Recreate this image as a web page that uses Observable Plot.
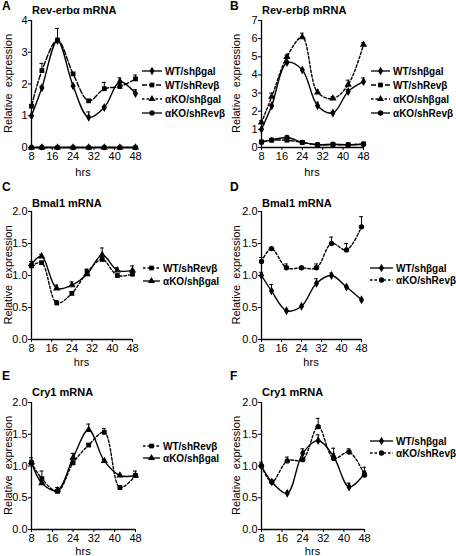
<!DOCTYPE html>
<html><head><meta charset="utf-8">
<script src="https://cdn.jsdelivr.net/npm/d3@7"></script>
<script src="https://cdn.jsdelivr.net/npm/@observablehq/plot@0.6"></script>
<style>
html,body{margin:0;padding:0;background:#fff;}
#wrap{position:relative;width:456px;height:556px;background:#fff;font-family:"Liberation Sans",Arial,sans-serif;overflow:hidden;}
#wrap > svg{position:absolute;}
</style></head>
<body><div id="wrap"></div>
<script>
// ---- data ----
const hours = [8, 12, 18, 24, 30, 36, 42, 48];
const xTicks = [8, 16, 24, 32, 40, 48];
const yTicksA = [0, 1, 2, 3, 4];
const yTicksB = [0, 1, 2, 3, 4, 5, 6, 7];
const yTicksCF = [0, 0.5, 1, 1.5, 2];

// Panel A: Rev-erbα mRNA
const a_WT_shBgal = [1.0, 1.88, 3.37, 1.94, 0.95, 1.26, 2.07, 1.70];
const a_WT_shBgal_err = [0, 0.05, 0.05, 0, 0.17, 0.04, 0.12, 0.12];
const a_WT_shRevB = [1.30, 2.42, 3.38, 2.32, 1.47, 1.85, 1.92, 2.16];
const a_WT_shRevB_err = [0.04, 0.23, 0.37, 0.04, 0.03, 0.20, 0.08, 0.12];
const a_KO_shBgal = [0, 0, 0, 0, 0, 0, 0, 0];
const a_KO_shRevB = [0, 0, 0, 0, 0, 0, 0, 0];

// Panel B: Rev-erbβ mRNA
const b_WT_shBgal = [1.0, 2.30, 4.68, 4.27, 2.30, 1.90, 3.09, 3.63];
const b_WT_shBgal_err = [0, 0.05, 0.1, 0, 0.2, 0.05, 0.1, 0.2];
const b_WT_shRevB = [0.30, 0.40, 0.40, 0.28, 0.15, 0.15, 0.15, 0.20];
const b_KO_shBgal = [1.38, 2.80, 5.00, 6.08, 3.04, 2.70, 3.46, 5.67];
const b_KO_shBgal_err = [0.1, 0.2, 0.1, 0.22, 0.12, 0.1, 0.25, 0.1];
const b_KO_shRevB = [0.30, 0.42, 0.55, 0.28, 0.15, 0.18, 0.15, 0.18];

// Panel C: Bmal1 mRNA
const c_WT_shRevB = [1.15, 1.20, 0.57, 0.72, 1.05, 1.25, 1.00, 1.02];
const c_WT_shRevB_err = [0, 0, 0.04, 0.02, 0.04, 0.05, 0, 0];
const c_KO_shBgal = [1.18, 1.30, 0.80, 0.85, 1.02, 1.32, 1.08, 1.08];
const c_KO_shBgal_err = [0.04, 0.03, 0.05, 0.05, 0.08, 0.11, 0.04, 0.07];

// Panel D: Bmal1 mRNA
const d_WT_shBgal = [1.0, 0.76, 0.45, 0.52, 0.88, 1.0, 0.82, 0.62];
const d_WT_shBgal_err = [0.05, 0.1, 0, 0, 0.07, 0.04, 0, 0];
const d_KO_shRevB = [1.22, 1.42, 1.12, 1.12, 1.12, 1.50, 1.40, 1.76];
const d_KO_shRevB_err = [0.06, 0, 0.06, 0, 0.06, 0.1, 0.1, 0.16];

// Panel E: Cry1 mRNA
const e_WT_shRevB = [1.05, 0.80, 0.60, 1.05, 1.33, 1.53, 0.66, 0.85];
const e_WT_shRevB_err = [0.04, 0.12, 0.03, 0.05, 0.02, 0.06, 0.03, 0.07];
const e_KO_shBgal = [1.06, 0.73, 0.62, 1.13, 1.57, 1.08, 0.85, 0.85];
const e_KO_shBgal_err = [0.07, 0.02, 0.04, 0.07, 0.09, 0.02, 0.02, 0.03];

// Panel F: Cry1 mRNA
const f_WT_shBgal = [1.0, 0.75, 0.57, 1.20, 1.40, 1.15, 0.67, 0.88];
const f_WT_shBgal_err = [0.06, 0, 0, 0.07, 0.09, 0.05, 0.06, 0.04];
const f_KO_shRevB = [1.0, 0.75, 1.08, 1.10, 1.62, 1.12, 1.22, 0.86];
const f_KO_shRevB_err = [0.03, 0, 0.06, 0, 0.13, 0.16, 0.05, 0.12];

// ---- styles ----
const FONT = '"Liberation Sans", Arial, sans-serif';
const SOLID = null, LONGDASH = "5,2", SHORTDASH = "2.5,2";
const S = {
  wtg: {label: "WT/sh\u03b2gal", symbol: "diamond"},
  wtr: {label: "WT/shRev\u03b2", symbol: "square"},
  kog: {label: "\u03b1KO/sh\u03b2gal", symbol: "triangle"},
  kor: {label: "\u03b1KO/shRev\u03b2", symbol: "circle"}
};

const panels = [
  {id: "A", title: "Rev-erb\u03b1 mRNA", left: 0, top: 0, w: 228, h: 185, ml: 31, mr: 93, mt: 20, mb: 38,
   yDomain: [0, 4], yTicks: yTicksA, letterY: 10, titleY: 14, hrsY: 176,
   legendX: 142, legendLen: 20, legendY: 71, legendStep: 14,
   series: [
     {...S.wtg, v: a_WT_shBgal, e: a_WT_shBgal_err, dash: SOLID},
     {...S.wtr, v: a_WT_shRevB, e: a_WT_shRevB_err, dash: LONGDASH},
     {...S.kog, v: a_KO_shBgal, e: null, dash: SHORTDASH},
     {...S.kor, v: a_KO_shRevB, e: null, dash: SOLID}]},
  {id: "B", title: "Rev-erb\u03b2 mRNA", left: 228, top: 0, w: 228, h: 185, ml: 33, mr: 93, mt: 20, mb: 38,
   yDomain: [0, 7], yTicks: yTicksB, letterY: 10, titleY: 14, hrsY: 176,
   legendX: 371, legendLen: 19, legendY: 71, legendStep: 14,
   series: [
     {...S.wtg, v: b_WT_shBgal, e: b_WT_shBgal_err, dash: SOLID},
     {...S.wtr, v: b_WT_shRevB, e: null, dash: LONGDASH},
     {...S.kog, v: b_KO_shBgal, e: b_KO_shBgal_err, dash: SHORTDASH},
     {...S.kor, v: b_KO_shRevB, e: null, dash: SOLID}]},
  {id: "C", title: "Bmal1 mRNA", left: 0, top: 185, w: 228, h: 185, ml: 31, mr: 96, mt: 26, mb: 31,
   yDomain: [0, 2], yTicks: yTicksCF, letterY: 191, titleY: 207, hrsY: 366,
   legendX: 143, legendLen: 17, legendY: 268, legendStep: 13,
   series: [
     {...S.wtr, v: c_WT_shRevB, e: c_WT_shRevB_err, dash: SHORTDASH},
     {...S.kog, v: c_KO_shBgal, e: c_KO_shBgal_err, dash: SOLID}]},
  {id: "D", title: "Bmal1 mRNA", left: 228, top: 185, w: 228, h: 185, ml: 33, mr: 95, mt: 26, mb: 31,
   yDomain: [0, 2], yTicks: yTicksCF, letterY: 191, titleY: 207, hrsY: 366,
   legendX: 370, legendLen: 23, legendY: 268, legendStep: 12,
   series: [
     {...S.wtg, v: d_WT_shBgal, e: d_WT_shBgal_err, dash: SOLID},
     {...S.kor, v: d_KO_shRevB, e: d_KO_shRevB_err, dash: SHORTDASH}]},
  {id: "E", title: "Cry1 mRNA", left: 0, top: 370, w: 228, h: 186, ml: 31, mr: 93, mt: 32, mb: 27,
   yDomain: [0, 2], yTicks: yTicksCF, letterY: 380, titleY: 396, hrsY: 555,
   legendX: 143, legendLen: 17, legendY: 446, legendStep: 12,
   series: [
     {...S.wtr, v: e_WT_shRevB, e: e_WT_shRevB_err, dash: SHORTDASH},
     {...S.kog, v: e_KO_shBgal, e: e_KO_shBgal_err, dash: SOLID}]},
  {id: "F", title: "Cry1 mRNA", left: 228, top: 370, w: 228, h: 186, ml: 33, mr: 92, mt: 32, mb: 27,
   yDomain: [0, 2], yTicks: yTicksCF, letterY: 380, titleY: 396, hrsY: 555,
   legendX: 370, legendLen: 23, legendY: 441, legendStep: 12,
   series: [
     {...S.wtg, v: f_WT_shBgal, e: f_WT_shBgal_err, dash: SOLID},
     {...S.kor, v: f_KO_shRevB, e: f_KO_shRevB_err, dash: SHORTDASH}]}
];

const wrap = document.getElementById("wrap");

for (const p of panels) {
  const marks = [];
  marks.push(Plot.ruleY([p.yDomain[0]], {stroke: "black", strokeWidth: 1.3}));
  marks.push(Plot.ruleX([8], {stroke: "black", strokeWidth: 1.3}));
  marks.push(Plot.axisX(xTicks, {tickSize: 3, tickPadding: 2, label: null, fontSize: 11, stroke: "black"}));
  marks.push(Plot.axisY(p.yTicks, {tickSize: 3, tickPadding: 1, label: null, fontSize: 11, stroke: "black"}));
  for (const s of p.series) {
    const rows = hours.map((h, i) => ({x: h, y: s.v[i], e: s.e ? s.e[i] : 0}));
    const withErr = rows.filter(d => d.e > 0);
    marks.push(Plot.ruleX(withErr, {x: "x", y1: "y", y2: d => d.y + d.e, stroke: "black", strokeWidth: 1}));
    marks.push(Plot.ruleY(withErr, {y: d => d.y + d.e, x1: d => d.x - 0.75, x2: d => d.x + 0.75, stroke: "black", strokeWidth: 1}));
    marks.push(Plot.line(rows, {x: "x", y: "y", curve: "catmull-rom", stroke: "black", strokeWidth: 1.4,
      strokeDasharray: s.dash || undefined}));
    marks.push(Plot.dot(rows, {x: "x", y: "y", symbol: () => s.symbol, fill: "black", stroke: "none", r: 2.7}));
  }
  const chart = Plot.plot({
    width: p.w, height: p.h,
    marginLeft: p.ml, marginRight: p.mr, marginTop: p.mt, marginBottom: p.mb,
    x: {domain: [8, 48]},
    y: {domain: p.yDomain},
    symbol: {type: "identity"},
    style: {fontFamily: FONT, fontSize: "11px", color: "black", background: "white", overflow: "visible"},
    marks
  });
  chart.style.left = p.left + "px";
  chart.style.top = p.top + "px";
  wrap.appendChild(chart);
}

// ---- overlay: panel letters, titles, axis labels, legends ----
const ov = d3.select(wrap).append("svg")
  .attr("width", 456).attr("height", 556)
  .style("left", "0px").style("top", "0px").style("pointer-events", "none")
  .style("font-family", FONT);

const symMap = {diamond: d3.symbolDiamond, square: d3.symbolSquare, triangle: d3.symbolTriangle, circle: d3.symbolCircle};

for (const p of panels) {
  const x0 = p.left + p.ml, x1 = p.left + p.w - p.mr;
  const y0 = p.top + p.mt, y1 = p.top + p.h - p.mb;
  ov.append("text").attr("x", p.left + 2).attr("y", p.letterY).attr("font-size", 12).attr("font-weight", "bold").text(p.id);
  ov.append("text").attr("x", x0 + 1).attr("y", p.titleY).attr("font-size", 11).attr("font-weight", "bold").text(p.title);
  ov.append("text").attr("x", (x0 + x1) / 2).attr("y", p.hrsY).attr("font-size", 11).attr("text-anchor", "middle").text("hrs");
  ov.append("text").attr("transform", `translate(${p.left + 12},${(y0 + y1) / 2}) rotate(-90)`)
    .attr("font-size", 11).attr("text-anchor", "middle").style("white-space", "pre")
    .text("Relative  expression");
  p.series.forEach((s, i) => {
    const ly = p.legendY + i * p.legendStep;
    const lx = p.legendX;
    const len = p.legendLen;
    ov.append("line").attr("x1", lx).attr("x2", lx + len).attr("y1", ly).attr("y2", ly)
      .attr("stroke", "black").attr("stroke-width", 1.3).attr("stroke-dasharray", s.dash || null);
    ov.append("path").attr("transform", `translate(${lx + len / 2},${ly})`)
      .attr("d", d3.symbol(symMap[s.symbol], 22)()).attr("fill", "black");
    ov.append("text").attr("x", lx + len + 3).attr("y", ly + 3.5).attr("font-size", 10).attr("font-weight", "bold").text(s.label);
  });
}
</script></body></html>
